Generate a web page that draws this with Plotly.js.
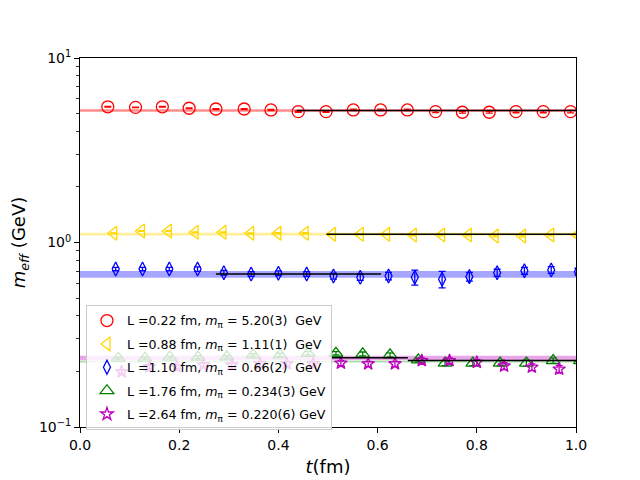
<!DOCTYPE html>
<html>
<head>
<meta charset="utf-8">
<script src="https://cdn.plot.ly/plotly-3.0.1.min.js"></script>
<style>html,body{margin:0;padding:0;background:#fff}#plot{width:640px;height:480px}</style>
</head>
<body>
<div id="plot"></div>
<script>
// ---- data ----
const labels = [
  "L =0.22 fm, <i>m</i><sub>π</sub> = 5.20(3)\u00a0\u00a0GeV",
  "L =0.88 fm, <i>m</i><sub>π</sub> = 1.11(1)\u00a0\u00a0GeV",
  "L =1.10 fm, <i>m</i><sub>π</sub> = 0.66(2)\u00a0\u00a0GeV",
  "L =1.76 fm, <i>m</i><sub>π</sub> = 0.234(3) GeV",
  "L =2.64 fm, <i>m</i><sub>π</sub> = 0.220(6) GeV"
];
const colors = ["#ff0000", "#ffd700", "#0000ff", "#008000", "#bf00bf"];
const bandColors = ["rgba(255,0,0,0.45)", "rgba(255,215,0,0.4)", "rgba(0,0,255,0.35)", "rgba(0,128,0,0.3)", "rgba(191,0,191,0.35)"];
const symbols = ["circle-open", "triangle-left-open", "diamond-tall-open", "triangle-up-open", "star-open"];
const sizes = [12, 12, 10, 12, 9.5];

const tRed = [0.056,0.112,0.166,0.220,0.274,0.331,0.385,0.440,0.496,0.551,0.606,0.660,0.717,0.771,0.825,0.879,0.934,0.989];
const mRed = [5.44,5.40,5.44,5.34,5.29,5.29,5.23,5.12,5.12,5.23,5.23,5.23,5.12,5.08,5.08,5.12,5.12,5.12];
const eRed = [0.02,0.02,0.02,0.03,0.03,0.03,0.04,0.04,0.04,0.05,0.05,0.05,0.06,0.06,0.06,0.07,0.07,0.08];

const tYel = [0.068,0.124,0.178,0.232,0.288,0.344,0.399,0.454,0.509,0.565,0.618,0.672,0.729,0.783,0.837,0.892,0.949,1.003];
const mYel = [1.122,1.154,1.154,1.136,1.136,1.122,1.122,1.122,1.108,1.108,1.108,1.098,1.098,1.098,1.084,1.084,1.098,1.098];
const eYel = [0.005,0.005,0.006,0.006,0.007,0.007,0.008,0.008,0.009,0.009,0.010,0.010,0.011,0.011,0.012,0.012,0.013,0.013];

const tBlu = [0.072,0.126,0.180,0.237,0.290,0.345,0.400,0.457,0.511,0.565,0.622,0.675,0.730,0.785,0.841,0.896,0.950,1.004];
const mBlu = [0.718,0.718,0.718,0.718,0.686,0.675,0.681,0.675,0.658,0.648,0.658,0.648,0.632,0.653,0.686,0.703,0.710,0.695];
const eBlu = [0.015,0.015,0.015,0.020,0.020,0.020,0.020,0.020,0.025,0.025,0.030,0.060,0.065,0.035,0.030,0.030,0.030,0.030];

const tGrn = [0.077,0.131,0.181,0.238,0.296,0.349,0.403,0.460,0.516,0.570,0.625,0.682,0.736,0.792,0.847,0.900,0.954,1.009];
const mGrn = [0.236,0.236,0.239,0.239,0.240,0.246,0.246,0.251,0.251,0.249,0.246,0.231,0.222,0.222,0.222,0.222,0.229,0.229];
const eGrn = [0.003,0.003,0.003,0.004,0.004,0.004,0.005,0.005,0.005,0.006,0.006,0.006,0.007,0.007,0.007,0.008,0.008,0.008];

const tMag = [0.084,0.140,0.195,0.249,0.306,0.363,0.417,0.470,0.526,0.581,0.635,0.689,0.745,0.800,0.855,0.911,0.966];
const mMag = [0.199,0.212,0.212,0.217,0.217,0.220,0.220,0.220,0.222,0.220,0.220,0.229,0.229,0.224,0.214,0.211,0.206];
const eMag = [0.004,0.004,0.005,0.005,0.005,0.006,0.006,0.006,0.007,0.007,0.007,0.008,0.008,0.008,0.009,0.009,0.010];

// fit bands (low/high) and fit lines (value, start, end)
const bandLo = [5.12, 1.09, 0.645, 0.224, 0.231];
const bandHi = [5.27, 1.13, 0.700, 0.229, 0.243];
const fitVal = [5.20, 1.11, 0.675, 0.237, 0.229];
const fitStart = [0.437, 0.497, 0.274, 0.508, 0.661];
const fitEnd = [1.0, 1.0, 0.607, 0.661, 1.0];

const tickX = [0.0, 0.2, 0.4, 0.6, 0.8, 1.0];
const tickXText = ["0.0", "0.2", "0.4", "0.6", "0.8", "1.0"];
const tickY = [0.1, 1, 10];
const tickYText = ["10<sup>−1</sup>", "10<sup>0</sup>", "10<sup>1</sup>"];
const minorY = [0.2,0.3,0.4,0.5,0.6,0.7,0.8,0.9,2,3,4,5,6,7,8,9];

const series = [
  [tRed, mRed, eRed], [tYel, mYel, eYel], [tBlu, mBlu, eBlu], [tGrn, mGrn, eGrn], [tMag, mMag, eMag]
];

const traces = [];
// bands
for (let i = 0; i < 5; i++) {
  traces.push({
    x: [0, 1, 1, 0], y: [bandLo[i], bandLo[i], bandHi[i], bandHi[i]],
    type: 'scatter', mode: 'lines', fill: 'toself', fillcolor: bandColors[i],
    line: {width: 0}, showlegend: false, hoverinfo: 'skip'
  });
}
// points
for (let i = 0; i < 5; i++) {
  const s = series[i];
  traces.push({
    x: s[0], y: s[1], type: 'scatter', mode: 'markers', name: labels[i],
    legendgroup: 'g' + i,
    marker: {symbol: symbols[i], size: sizes[i], color: colors[i], line: {width: 1.3, color: colors[i]}},
    error_y: {type: 'data', array: s[2], visible: true, color: colors[i], thickness: 1.3, width: 3.5}
  });
}
// fit lines
for (let i = 0; i < 5; i++) {
  traces.push({
    x: [fitStart[i], fitEnd[i]], y: [fitVal[i], fitVal[i]],
    type: 'scatter', mode: 'lines', line: {color: 'black', width: 1.5},
    showlegend: false, hoverinfo: 'skip'
  });
}

const font = {family: 'DejaVu Sans, sans-serif', color: '#000'};
const layout = {
  width: 640, height: 480,
  margin: {l: 80, r: 64, t: 58, b: 53},
  paper_bgcolor: '#fff', plot_bgcolor: '#fff',
  font: Object.assign({size: 14}, font),
  showlegend: true,
  legend: {
    x: 0.012, y: 0.331, xanchor: 'left', yanchor: 'top',
    bgcolor: 'rgba(255,255,255,0.8)', bordercolor: '#cccccc', borderwidth: 1,
    font: Object.assign({size: 12.6}, font), traceorder: 'grouped', tracegroupgap: 4
  },
  xaxis: {
    range: [0, 1], tickvals: tickX, ticktext: tickXText,
    showline: true, mirror: true, linecolor: '#000', linewidth: 1,
    ticks: 'outside', ticklen: 5, tickwidth: 1, tickcolor: '#000',
    showgrid: false, zeroline: false,
    tickfont: Object.assign({size: 14}, font),
    title: {text: '<i>t</i>(fm)', font: Object.assign({size: 18}, font), standoff: 8}
  },
  yaxis: {
    type: 'log', range: [-1, 1], tickvals: tickY, ticktext: tickYText,
    showline: true, mirror: true, linecolor: '#000', linewidth: 1,
    ticks: 'outside', ticklen: 5, tickwidth: 1, tickcolor: '#000',
    showgrid: false, zeroline: false,
    tickfont: Object.assign({size: 14}, font),
    minor: {tickvals: minorY, ticks: 'outside', ticklen: 3, tickwidth: 0.8, tickcolor: '#000', showgrid: false},
    title: {text: '<i>m</i><sub><i>eff</i></sub> (GeV)', font: Object.assign({size: 18}, font), standoff: 8}
  }
};

Plotly.newPlot('plot', traces, layout, {staticPlot: true});
</script>
</body>
</html>
